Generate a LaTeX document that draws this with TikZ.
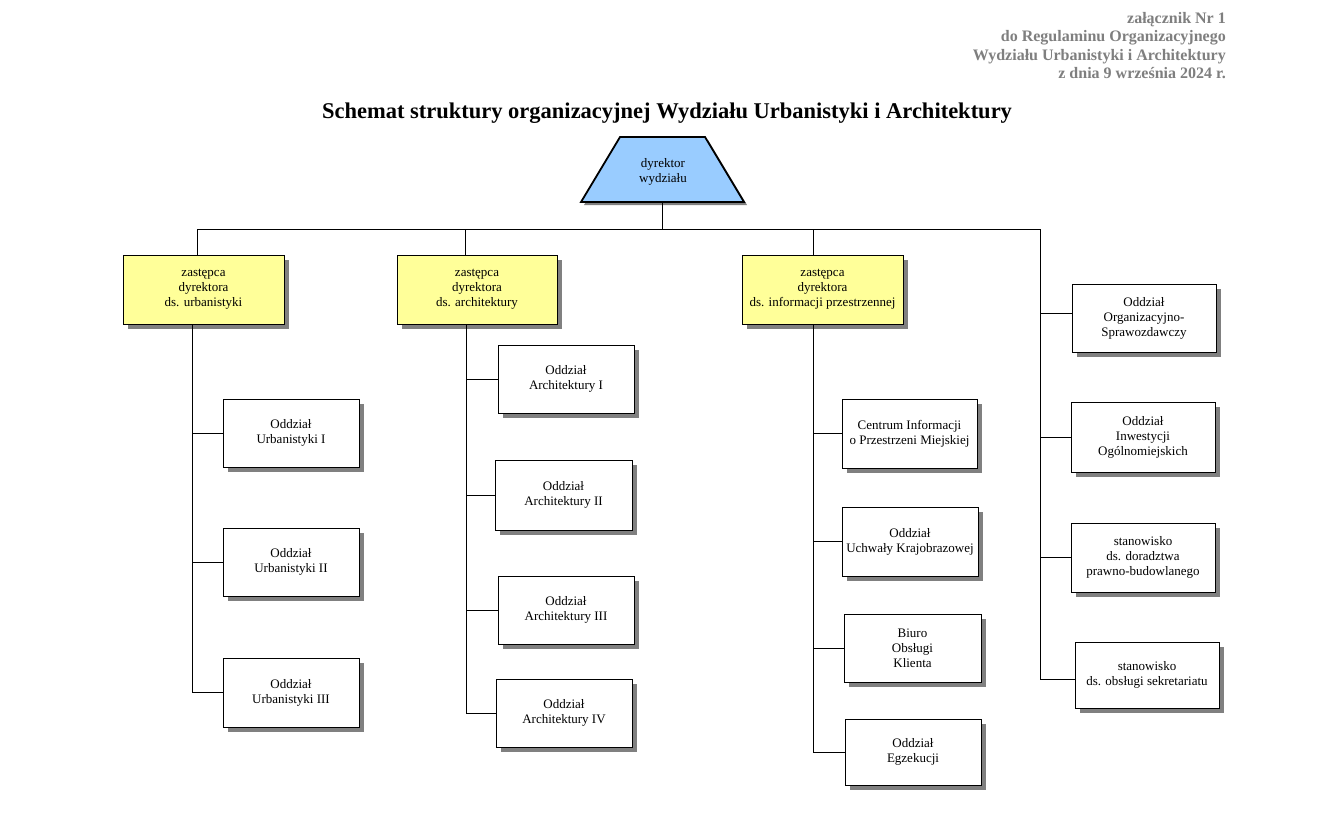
\documentclass[tikz,border=0pt]{standalone}
\usepackage{fontspec}
\setmainfont{Liberation Serif}
\usetikzlibrary{shadows}
\definecolor{boxyellow}{HTML}{FFFF99}
\definecolor{dirblue}{HTML}{99CCFF}
\definecolor{shadowgray}{HTML}{808080}
\definecolor{headgray}{HTML}{7F7F7F}
\tikzset{
  unit/.style={draw, line width=0.9pt, align=center, font=\fontsize{13}{15}\selectfont, inner sep=0pt,
    drop shadow={shadow xshift=5pt, shadow yshift=-5pt, fill=shadowgray, opacity=1}},
  obox/.style={unit, fill=white, minimum width=136pt, minimum height=68pt},
  ybox/.style={unit, fill=boxyellow, minimum width=161pt, minimum height=69pt},
  conn/.style={line width=0.9pt},
}
\begin{document}
\begin{tikzpicture}[x=1pt,y=-1pt]
\useasboundingbox (0,0) rectangle (1334,820);
\fill[white] (0,0) rectangle (1334,820);

% header
\node[anchor=north east, align=right, text=headgray, inner sep=0pt,
  font=\fontsize{16}{18.5}\selectfont\bfseries] (hdr) at (1226,12)
  {załącznik Nr 1\\do Regulaminu Organizacyjnego\\Wydziału Urbanistyki i Architektury\\z dnia 9 września 2024 r.};

% title
\node[font=\fontsize{22.5}{26}\selectfont\bfseries, inner sep=0pt] (title) at (667,113)
  {Schemat struktury organizacyjnej Wydziału Urbanistyki i Architektury};

% director
\fill[shadowgray] (623,140) -- (708,140) -- (747,205) -- (584,205) -- cycle;
\draw[line width=1.8pt, fill=dirblue] (620,137) -- (705,137) -- (744,202) -- (581,202) -- cycle;
\node[font=\fontsize{13}{15}\selectfont, align=center, inner sep=0pt] (dir) at (663,172) {dyrektor\\wydziału};
\coordinate (dirb) at (662,202);

% deputies
\node[ybox] (zu) at (203.5,289.5) {zastępca\\dyrektora\\ds. urbanistyki};
\node[ybox, minimum width=160pt] (za) at (477,289.5) {zastępca\\dyrektora\\ds. architektury};
\node[ybox] (zi) at (822.5,289.5) {zastępca\\dyrektora\\ds. informacji przestrzennej};

% urbanistyka units
\node[obox] (ub1) at (291,433) {Oddział\\Urbanistyki I};
\node[obox] (ub2) at (291,562) {Oddział\\Urbanistyki II};
\node[obox, minimum height=69pt] (ub3) at (291,692.5) {Oddział\\Urbanistyki III};

% architektura units
\node[obox] (ar1) at (566,379) {Oddział\\Architektury I};
\node[obox, minimum width=137pt, minimum height=70pt] (ar2) at (563.5,495) {Oddział\\Architektury II};
\node[obox] (ar3) at (566,610) {Oddział\\Architektury III};
\node[obox] (ar4) at (564,713) {Oddział\\Architektury IV};

% informacja units
\node[obox, minimum width=135pt, minimum height=69pt] (in1) at (909.5,433.5) {Centrum Informacji\\o Przestrzeni Miejskiej};
\node[obox, minimum height=69pt] (in2) at (910,541.5) {Oddział\\Uchwały Krajobrazowej};
\node[obox, minimum width=137pt] (in3) at (912.5,648) {Biuro\\Obsługi\\Klienta};
\node[obox, minimum height=66pt] (in4) at (913,752) {Oddział\\Egzekucji};

% director's own units
\node[obox, minimum width=144pt] (os1) at (1144,318) {Oddział\\Organizacyjno-\\Sprawozdawczy};
\node[obox, minimum width=144pt, minimum height=70pt] (os2) at (1143,437) {Oddział\\Inwestycji\\Ogólnomiejskich};
\node[obox, minimum width=144pt, minimum height=69pt] (os3) at (1143,557.5) {stanowisko\\ds. doradztwa\\prawno-budowlanego};
\node[obox, minimum width=144pt, minimum height=66pt] (os4) at (1147,675) {stanowisko\\ds. obsługi sekretariatu};

% bus
\coordinate (busL) at (197,229);
\coordinate (busA) at (465,229);
\coordinate (busI) at (813,229);
\coordinate (busR) at (1040,229);
\draw[conn] (dirb) -- (dirb |- busL);
\draw[conn] (busL) -- (busR);
\draw[conn] (busL) -- (busL |- zu.north);
\draw[conn] (busA) -- (busA |- za.north);
\draw[conn] (busI) -- (busI |- zi.north);
\draw[conn] (busR) |- ([yshift=-4pt]os4.west);
\draw[conn] ([yshift=5pt]os1.west) -- ([yshift=5pt]os1.west -| busR);
\draw[conn] (os2.west) -- (os2.west -| busR);
\draw[conn] (os3.west) -- (os3.west -| busR);

% spines
\coordinate (spU) at (192,0);
\coordinate (spA) at (466,0);
\coordinate (spI) at (813,0);
\draw[conn] (zu.south -| spU) |- (ub3.west);
\draw[conn] (ub1.west) -- (ub1.west -| spU);
\draw[conn] (ub2.west) -- (ub2.west -| spU);

\draw[conn] (za.south -| spA) |- (ar4.west);
\draw[conn] (ar1.west) -- (ar1.west -| spA);
\draw[conn] (ar2.west) -- (ar2.west -| spA);
\draw[conn] (ar3.west) -- (ar3.west -| spA);

\draw[conn] (zi.south -| spI) |- (in4.west);
\draw[conn] (in1.west) -- (in1.west -| spI);
\draw[conn] (in2.west) -- (in2.west -| spI);
\draw[conn] (in3.west) -- (in3.west -| spI);
\end{tikzpicture}
\end{document}
